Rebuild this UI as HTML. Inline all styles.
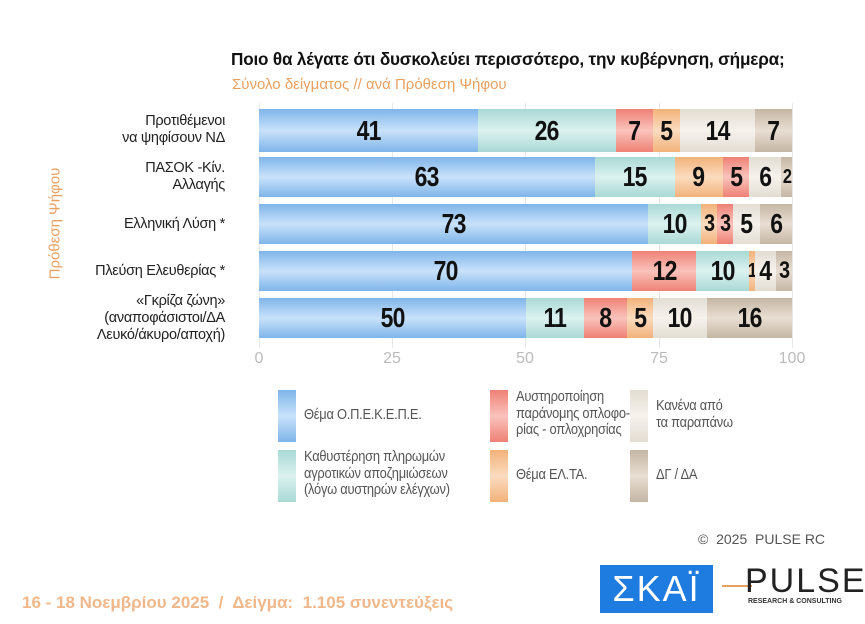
<!DOCTYPE html>
<html><head><meta charset="utf-8"><style>
body{margin:0;width:865px;height:624px;background:#fff;position:relative;overflow:hidden;font-family:"Liberation Sans","DejaVu Sans",sans-serif}
.a{position:absolute}
.seg{position:absolute;top:0;height:100%;display:flex;align-items:center;justify-content:center;font-family:"Liberation Sans",sans-serif;font-weight:bold;color:#111;font-size:28px;letter-spacing:-1px}
.seg span{display:inline-block;transform:scaleX(.82)}
.b{background:linear-gradient(#7fb5ea,#c9e2fa 50%,#7fb5ea)}
.t{background:linear-gradient(#a9d9d5,#dcf2f0 50%,#a9d9d5)}
.r{background:linear-gradient(#ef8175,#f9c3bc 50%,#ef8175)}
.o{background:linear-gradient(#f2b27a,#fbdcc0 50%,#f2b27a)}
.l{background:linear-gradient(#e3ddd3,#f6f2ec 50%,#e3ddd3)}
.d{background:linear-gradient(#c5b6a4,#e8ded2 50%,#c5b6a4)}
.lab{position:absolute;right:640px;text-align:right;font-size:14.5px;color:#222;line-height:17px;letter-spacing:-0.3px}
.tick{position:absolute;top:350px;font-size:16px;color:#bbb;transform:translateX(-50%)}
.grid{position:absolute;top:103px;height:245px;width:1px;background:#e6e6e6}
.sw{position:absolute;width:18px;height:52px}
.lt{position:absolute;font-size:15px;color:#555;line-height:16.5px;letter-spacing:-0.3px;transform:scaleX(.86);transform-origin:left;white-space:nowrap}
</style></head><body>
<div class="a" style="left:231px;top:49px;font-size:17.5px;font-weight:bold;color:#111;letter-spacing:-0.2px;transform:scaleX(.98);transform-origin:left;white-space:nowrap">Ποιο θα λέγατε ότι δυσκολεύει περισσότερο, την κυβέρνηση, σήμερα;</div>
<div class="a" style="left:232px;top:76px;font-size:15px;color:#e8a060">Σύνολο δείγματος // ανά Πρόθεση Ψήφου</div>
<div class="a" style="left:-5px;top:215px;width:120px;font-size:15px;color:#e8a060;transform:rotate(-90deg);text-align:center">Πρόθεση Ψήφου</div>
<div class="grid" style="left:259px"></div><div class="grid" style="left:392px"></div><div class="grid" style="left:525px"></div><div class="grid" style="left:659px"></div><div class="grid" style="left:792px"></div>
<div class="lab" style="top:113px">Προτιθέμενοι<br>να ψηφίσουν ΝΔ</div>
<div class="lab" style="top:160px">ΠΑΣΟΚ -Κίν.<br>Αλλαγής</div>
<div class="lab" style="top:216px">Ελληνική Λύση *</div>
<div class="lab" style="top:263px">Πλεύση Ελευθερίας *</div>
<div class="lab" style="top:293px">«Γκρίζα ζώνη»<br>(αναποφάσιστοι/ΔΑ<br>Λευκό/άκυρο/αποχή)</div>
<div id="bars"></div>
<div class="tick" style="left:259px">0</div><div class="tick" style="left:392px">25</div><div class="tick" style="left:525px">50</div><div class="tick" style="left:659px">75</div><div class="tick" style="left:792px">100</div>
<div class="sw b" style="left:278px;top:390px"></div><div class="lt" style="left:304px;top:407px">Θέμα Ο.Π.Ε.Κ.Ε.Π.Ε.</div>
<div class="sw t" style="left:278px;top:450px"></div><div class="lt" style="left:304px;top:449px">Καθυστέρηση πληρωμών<br>αγροτικών αποζημιώσεων<br>(λόγω αυστηρών ελέγχων)</div>
<div class="sw r" style="left:490px;top:390px"></div><div class="lt" style="left:516px;top:389px">Αυστηροποίηση<br>παράνομης οπλοφο-<br>ρίας - οπλοχρησίας</div>
<div class="sw o" style="left:490px;top:450px"></div><div class="lt" style="left:516px;top:467px">Θέμα ΕΛ.ΤΑ.</div>
<div class="sw l" style="left:630px;top:390px"></div><div class="lt" style="left:656px;top:398px">Κανένα από<br>τα παραπάνω</div>
<div class="sw d" style="left:630px;top:450px"></div><div class="lt" style="left:656px;top:467px">ΔΓ / ΔΑ</div>
<div class="a" style="left:698px;top:531px;font-size:14px;color:#555">©&nbsp; 2025&nbsp; PULSE RC</div>
<div class="a" style="left:22px;top:593px;font-size:17px;font-weight:bold;color:#f0b88a">16 - 18 Νοεμβρίου 2025&nbsp; /&nbsp; Δείγμα:&nbsp; 1.105 συνεντεύξεις</div>
<div class="a" style="left:600px;top:565px;width:113px;height:48px;background:#1e7be0;color:#fff;font-size:36px;line-height:48px;text-align:center;letter-spacing:2px">ΣΚΑΪ</div>
<div class="a" style="left:722px;top:585px;width:30px;height:2px;background:#e8a060"></div>
<div class="a" style="left:745px;top:562px;font-size:34px;color:#222;letter-spacing:2px">PULSE</div>
<div class="a" style="left:748px;top:598px;font-size:7px;color:#333;font-weight:bold">RESEARCH &amp; CONSULTING</div>
<script>
var rows=[[109,43,[['b',41],['t',26],['r',7],['o',5],['l',14],['d',7]]],
[157,40,[['b',63],['t',15],['o',9],['r',5],['l',6],['d',2]]],
[204,40,[['b',73],['t',10],['o',3],['r',3],['l',5],['d',6]]],
[251,40,[['b',70],['r',12],['t',10],['o',1],['l',4],['d',3]]],
[298,40,[['b',50],['t',11],['r',8],['o',5],['l',10],['d',16]]]];
var h='',k=533/100;
rows.forEach(function(r){var x=0;h+='<div class="a" style="left:259px;top:'+r[0]+'px;width:533px;height:'+r[1]+'px">';
r[2].forEach(function(s){var fs=s[1]<=2?20:(s[1]<=3?24:28);h+='<div class="seg '+s[0]+'" style="left:'+(x*k).toFixed(1)+'px;width:'+(s[1]*k).toFixed(1)+'px;font-size:'+fs+'px"><span>'+s[1]+'</span></div>';x+=s[1];});
h+='</div>';});
document.getElementById('bars').innerHTML=h;
</script>
</body></html>
